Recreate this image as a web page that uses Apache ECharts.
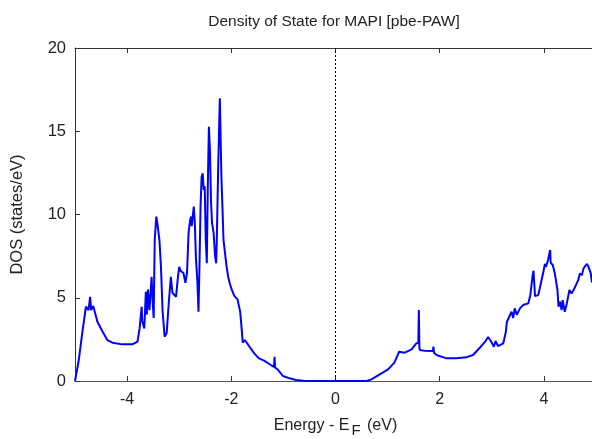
<!DOCTYPE html>
<html>
<head>
<meta charset="utf-8">
<script src="https://cdn.jsdelivr.net/npm/echarts@6/dist/echarts.min.js"></script>
<style>
  html, body { margin: 0; padding: 0; background: #fff; }
  #chart { width: 592px; height: 439px; }
</style>
</head>
<body>
<div id="chart"></div>
<script>
// energy (eV, relative to E_F) and DOS
var energy = [
  -5.0, -4.93, -4.86, -4.79, -4.77, -4.74, -4.71, -4.69, -4.65, -4.62,
  -4.57, -4.47, -4.38, -4.28, -4.09, -3.90, -3.80, -3.76, -3.72, -3.71,
  -3.67, -3.64, -3.62, -3.60, -3.57, -3.53, -3.51, -3.49, -3.47, -3.44,
  -3.42, -3.38, -3.35, -3.32, -3.28, -3.24, -3.20, -3.16, -3.13, -3.06,
  -3.03, -3.00, -2.97, -2.92, -2.88, -2.85, -2.82, -2.79, -2.77, -2.76,
  -2.72, -2.70, -2.68, -2.65, -2.63, -2.61, -2.59, -2.57, -2.55, -2.53,
  -2.51, -2.49, -2.47, -2.45, -2.43, -2.41, -2.39, -2.37, -2.34, -2.31,
  -2.29, -2.28, -2.25, -2.22, -2.21, -2.19, -2.17, -2.15, -2.12, -2.09,
  -2.06, -2.03, -1.99, -1.94, -1.88, -1.83, -1.81, -1.78, -1.74, -1.65,
  -1.56, -1.47, -1.37, -1.24, -1.18, -1.17, -1.16, -1.11, -1.01, -0.88,
  -0.76, -0.62, -0.50, 0.60, 0.69, 0.85, 1.01, 1.13, 1.20, 1.22,
  1.33, 1.46, 1.55, 1.59, 1.60, 1.61, 1.62, 1.71, 1.87, 1.88,
  1.89, 1.94, 2.13, 2.32, 2.51, 2.64, 2.77, 2.88, 2.93, 2.99,
  3.04, 3.07, 3.12, 3.15, 3.22, 3.27, 3.29, 3.31, 3.38, 3.41,
  3.44, 3.48, 3.54, 3.60, 3.70, 3.74, 3.78, 3.80, 3.83, 3.89,
  3.92, 3.99, 4.02, 4.04, 4.08, 4.12, 4.13, 4.17, 4.21, 4.26,
  4.28, 4.31, 4.34, 4.36, 4.40, 4.44, 4.49, 4.53, 4.58, 4.66,
  4.69, 4.73, 4.76, 4.82, 4.85, 4.90, 4.92, 5.0
];
var dos = [
  0, 1.2, 2.9, 4.46, 4.5, 4.26, 5.06, 4.26, 4.5, 4.46,
  3.56, 2.96, 2.46, 2.3, 2.2, 2.2, 2.36, 3.16, 4.46, 3.6,
  3.16, 5.36, 4.0, 5.5, 4.26, 6.26, 4.8, 3.78, 8.47, 9.87,
  9.5, 8.47, 6.86, 4.26, 2.66, 2.9, 4.7, 6.26, 5.3, 5.06,
  6.07, 6.86, 6.6, 6.5, 5.9, 6.5, 8.9, 9.67, 9.87, 9.3,
  10.47, 9.5, 7.47, 5.9, 4.16, 7.0, 10.5, 12.27, 12.47, 11.47,
  11.7, 8.47, 7.07, 11.87, 15.27, 13.87, 10.87, 9.5, 8.9, 7.47,
  7.07, 8.27, 13.07, 16.98, 16.9, 12.27, 10.47, 8.47, 7.67, 6.86,
  6.26, 5.87, 5.47, 5.1, 4.9, 4.16, 3.46, 2.3, 2.46, 2.06,
  1.66, 1.36, 1.22, 0.96, 0.85, 1.46, 0.8, 0.7, 0.3, 0.16,
  0.06, 0.02, 0, 0, 0.1, 0.4, 0.7, 1.1, 1.6, 1.76,
  1.7, 1.9, 2.26, 2.3, 4.26, 2.0, 1.86, 1.82, 1.8, 2.06,
  1.7, 1.56, 1.36, 1.36, 1.42, 1.56, 2.0, 2.4, 2.64, 2.36,
  2.06, 2.4, 2.1, 2.06, 2.26, 2.96, 3.56, 3.5, 4.16, 3.78,
  4.36, 3.98, 4.36, 4.56, 4.66, 5.16, 6.26, 6.62, 5.1, 5.16,
  5.56, 6.56, 7.03, 6.86, 7.27, 7.87, 7.1, 6.97, 6.46, 5.47,
  4.46, 4.76, 4.26, 4.86, 4.16, 4.66, 5.47, 5.26, 5.52, 6.07,
  6.46, 6.36, 6.76, 7.03, 6.9, 6.46, 5.96, 5.8
];
var xTicks = [-4, -2, 0, 2, 4];

var font = "'Liberation Sans', Arial, sans-serif";
var points = energy.map(function (e, i) { return [e, dos[i]]; });

var chart = echarts.init(document.getElementById('chart'));
chart.setOption({
  animation: false,
  backgroundColor: '#fff',
  title: {
    text: 'Density of State for MAPI [pbe-PAW]',
    left: 329, top: 9, textAlign: 'center',
    textStyle: { fontFamily: font, fontSize: 15.5, fontWeight: 'normal', color: '#222' }
  },
  grid: { left: 75, top: 48, width: 521, height: 333, outerBoundsMode: 'none', containLabel: false },
  xAxis: [{
    type: 'value', min: -5, max: 5,
    axisLine: { show: true, onZero: false, lineStyle: { color: '#555', width: 1 } },
    axisTick: { inside: true, length: 5, customValues: xTicks, lineStyle: { color: '#333' } },
    axisLabel: {
      margin: 11, color: '#222', fontFamily: font, fontSize: 16,
      customValues: xTicks
    },
    splitLine: { show: false },
    name: '{a|Energy - E}{sub|F}{a| (eV)}',
    nameLocation: 'middle', nameGap: 37,
    nameTextStyle: {
      rich: {
        a: { fontFamily: font, fontSize: 16, color: '#222', lineHeight: 20, verticalAlign: 'top' },
        sub: { fontFamily: font, fontSize: 15, color: '#222', lineHeight: 20, padding: [5, 2, 0, 2], verticalAlign: 'top' }
      }
    }
  }, {
    type: 'value', min: -5, max: 5, position: 'top',
    axisLine: { show: true, onZero: false, lineStyle: { color: '#333', width: 1 } },
    axisTick: { inside: true, length: 5, customValues: xTicks, lineStyle: { color: '#333' } },
    axisLabel: { show: false },
    splitLine: { show: false }
  }],
  yAxis: {
    type: 'value', min: 0, max: 20, interval: 5,
    axisLine: { show: true, onZero: false, lineStyle: { color: '#333', width: 1 } },
    axisTick: { show: true, inside: true, length: 5, lineStyle: { color: '#333' } },
    axisLabel: { margin: 9, color: '#222', fontFamily: font, fontSize: 16.5 },
    splitLine: { show: false },
    name: 'DOS (states/eV)',
    nameLocation: 'middle', nameGap: 49,
    nameTextStyle: { fontFamily: font, fontSize: 16.5, color: '#222' }
  },
  series: [{
    type: 'line',
    data: points,
    showSymbol: false,
    lineStyle: { color: '#0000ff', width: 2 },
    clip: true,
    markLine: {
      silent: true,
      symbol: 'none',
      label: { show: false },
      lineStyle: { color: '#000', type: [2, 2], width: 1 },
      data: [{ xAxis: 0 }]
    }
  }]
});
</script>
</body>
</html>
